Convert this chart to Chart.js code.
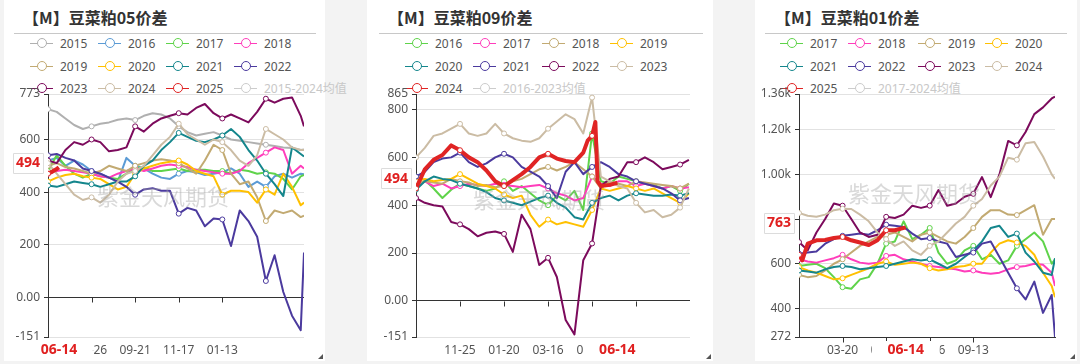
<!DOCTYPE html>
<html lang="zh"><head><meta charset="utf-8"><title>豆菜粕价差</title>
<script src="https://cdn.jsdelivr.net/npm/chart.js@4.4.1/dist/chart.umd.min.js"></script>
<style>
html,body{margin:0;padding:0}
body{width:1080px;height:364px;background:#f3f3f3;position:relative;overflow:hidden;font-family:"Noto Sans","Noto Sans CJK SC",sans-serif}
.panel{position:absolute;top:0;height:361px;background:#fff}
.title{position:absolute;top:6px;font-family:"Noto Sans CJK SC",sans-serif;font-weight:700;font-size:16px;line-height:22px;color:#333;white-space:nowrap}
.rule{position:absolute;top:33px;height:1px;background:#c8c8c8}
.lg{position:absolute;height:14px;line-height:14px;font-size:12px;color:#555;white-space:nowrap;z-index:1}
.lg .ic{position:absolute;left:0;top:6px;width:23px;height:1.5px}
.lg .ic i{position:absolute;left:6.5px;top:-4.5px;width:8px;height:8px;border-radius:50%;background:#fff;border:1px solid}
.lg .t{position:absolute;left:30px;top:0}
.wm{position:absolute;font-family:"Noto Sans CJK SC",sans-serif;font-size:22px;line-height:30px;color:rgba(165,165,165,.42);white-space:nowrap;z-index:3;pointer-events:none}
canvas{position:absolute;top:0;z-index:2}
.corner{position:absolute;top:354px;width:0;height:0;border-left:5px solid transparent;border-bottom:5px solid #555}
</style></head><body>
<script>
// ---------- colours (from oldest to newest year) ----------
const palette = ['#b0b0b0','#5b9bd5','#5fd34a','#ff3dbb','#c2aa72','#ffc000','#14868c','#4b3a9e','#7c0a5c','#cbbca4','#e02424'];

// ---------- Panel 1 : 05 spread ----------
const p1Years = ['2015','2016','2017','2018','2019','2020','2021','2022','2023','2024','2025'];
const p1Days = [0,8,16,24,32,40,48,56,64,72,80,88,96,104,112,120,128,136,144,152,160,168,176,184,192,200,208,216,224,232,235];
const p1_2015 = [715,705,680,655,640,650,660,665,675,680,674,690,700,695,680,650,628,615,622,628,615,600,595,590,585,580,575,570,568,560,562];
const p1_2016 = [520,530,500,520,505,480,470,455,440,530,500,490,470,455,450,470,480,475,465,470,475,490,470,420,440,420,460,470,455,470,468];
const p1_2017 = [480,540,500,470,455,470,460,455,450,470,490,495,480,480,485,490,480,485,485,480,480,470,485,480,470,475,470,450,410,460,465];
const p1_2018 = [470,480,485,480,475,470,460,455,470,480,490,480,490,500,505,500,495,485,480,475,470,470,480,510,530,550,570,560,470,500,490];
const p1_2019 = [500,510,495,490,480,470,480,500,490,480,500,510,520,525,520,510,490,470,520,580,560,470,430,440,380,290,330,320,330,305,310];
const p1_2020 = [440,455,465,470,460,455,450,430,410,420,470,490,500,510,515,520,505,480,470,460,390,405,405,400,360,410,390,470,420,350,360];
const p1_2021 = [425,420,430,440,435,430,420,430,440,440,460,500,520,560,590,625,610,595,590,600,615,640,610,560,520,470,430,385,570,545,535];
const p1_2022 = [540,545,530,520,490,480,470,455,440,420,390,410,415,405,405,318,340,330,270,300,296,195,330,290,230,62,160,20,-70,-125,170];
const p1_2023 = [520,510,560,590,580,600,590,555,560,570,650,630,660,680,690,700,695,720,735,700,680,695,680,665,705,755,740,755,760,690,650];
const p1_2024 = [510,470,430,390,370,380,360,390,440,470,480,500,540,580,610,660,620,600,580,600,590,560,520,500,540,640,620,600,570,560,560];
const p1Days2025 = [0,4,8,10];
const p1_2025 = [470,478,488,494];
const p1YTicks = [-151,0,200,400,600,773];
const p1XTicks = [40,80,120,160];
const p1XLabels = ['07-26','09-21','11-17','01-13'];

// ---------- Panel 2 : 09 spread ----------
const p2Years = ['2016','2017','2018','2019','2020','2021','2022','2023','2024'];
const p2Days = [0,8,16,24,32,40,48,56,64,72,80,88,96,104,112,120,128,136,144,152,160,168,176,184,192,200,208,216,224,232,240,248];
const p2_2016 = [520,505,470,430,465,490,480,470,460,470,500,460,480,450,420,400,440,420,460,380,700,500,490,520,510,500,490,485,470,480,460,490];
const p2_2017 = [475,500,480,490,470,480,490,485,480,490,485,480,475,480,485,470,450,440,420,430,520,490,480,500,500,480,490,480,470,480,470,475];
const p2_2018 = [490,500,495,490,510,500,495,480,485,475,480,500,510,530,550,560,545,560,580,550,520,470,500,490,480,500,495,490,485,480,470,490];
const p2_2019 = [500,510,500,505,510,530,510,490,480,470,445,430,440,360,310,340,320,330,320,310,380,470,460,470,480,470,460,470,450,430,410,450];
const p2_2020 = [465,500,520,510,505,490,480,470,455,430,420,410,400,415,430,440,410,390,350,340,410,430,440,420,440,450,445,440,440,445,440,450];
const p2_2021 = [520,540,580,595,600,620,580,560,575,600,615,600,560,540,520,480,430,540,580,530,560,580,560,530,520,500,490,480,470,450,420,430];
const p2_2022 = [430,410,400,395,330,320,300,270,285,290,280,205,360,300,150,180,100,-80,-140,170,240,480,510,520,580,580,600,580,550,560,570,590];
const p2_2023 = [600,640,690,700,720,740,700,690,700,740,700,680,670,665,680,720,750,780,760,700,850,520,500,480,470,410,370,380,350,360,390,470];
const p2Days2024 = [0,8,16,24,32,40,48,56,64,72,80,88,96,104,112,120,128,136,144,152,156,160,163,165,168,176,183];
const p2_2024 = [470,550,590,610,650,630,600,580,545,500,480,505,530,560,600,615,595,585,580,620,670,690,748,500,480,485,494];
const p2YTicks = [-151,0,200,400,600,800,865];
const p2XTicks = [40,80,120,160,200];
const p2XLabels = ['11-25','01-20','03-16','05-13',''];

// ---------- Panel 3 : 01 spread ----------
const p3Years = ['2017','2018','2019','2020','2021','2022','2023','2024','2025'];
const p3Days = [0,8,16,24,32,40,48,56,64,72,80,88,96,104,112,120,128,136,144,152,160,168,176,184,192,200,208,216,224,232,235];
const p3_2017 = [590,595,600,580,540,495,488,530,540,600,690,700,790,710,730,760,650,600,615,660,680,620,640,600,615,680,710,740,700,600,620];
const p3_2018 = [620,610,605,615,625,640,620,605,600,605,635,640,620,610,600,590,585,580,575,565,570,560,555,560,575,585,590,600,595,560,500];
const p3_2019 = [550,540,545,570,600,620,650,680,700,720,730,740,720,700,730,740,720,700,690,720,760,810,840,840,820,818,840,862,730,800,800];
const p3_2020 = [585,570,560,545,530,535,550,565,580,600,610,595,600,605,600,580,570,575,585,590,600,600,650,690,705,695,680,640,560,500,450];
const p3_2021 = [570,565,560,575,585,590,585,575,580,585,590,600,610,620,615,620,600,580,600,630,660,700,760,770,720,735,650,610,560,550,625];
const p3_2022 = [645,650,655,690,710,725,730,735,730,750,775,770,765,735,710,715,700,690,630,640,650,690,700,630,560,490,440,520,380,460,272];
const p3_2023 = [697,660,740,800,870,860,800,740,720,730,810,805,820,860,850,860,930,860,870,900,913,988,898,1000,1150,1130,1190,1270,1300,1340,1348];
const p3_2024 = [827,815,810,820,840,846,845,820,790,740,710,680,700,660,640,680,700,740,780,810,860,890,950,990,1075,1066,1140,1145,1080,1000,980];
const p3Days2025 = [0,3,8,16,24,32,40,48,56,64,72,80,88,98];
const p3_2025 = [640,615,690,705,706,715,720,705,695,684,705,750,750,763];
const p3YTicks = [272,400,600,800,1000,1200,1360];
const p3XTicks = [40,80,120,160];
const p3XLabels = ['03-20','05-15','07-16','09-13'];

const currentDate = '06-14';

// ---------- layout (positions only) ----------
const panels = [
  {title:'【M】豆菜粕05价差', avg:'2015-2024均值', years:p1Years,
   series:[p1_2015,p1_2016,p1_2017,p1_2018,p1_2019,p1_2020,p1_2021,p1_2022,p1_2023,p1_2024,p1_2025],
   days:[p1Days,p1Days,p1Days,p1Days,p1Days,p1Days,p1Days,p1Days,p1Days,p1Days,p1Days2025],
   colors:palette, yTicks:p1YTicks, xTicks:p1XTicks, xLabels:p1XLabels, xMax:235, zeroAxis:true, kFmt:false,
   panelX:4, panelW:321, canvasX:0, canvasW:326, yW:48, padR:22, titleX:23, ruleX:14, ruleW:302,
   cols:[30,98,166,234], wm:[97,195]},
  {title:'【M】豆菜粕09价差', avg:'2016-2023均值', years:p2Years,
   series:[p2_2016,p2_2017,p2_2018,p2_2019,p2_2020,p2_2021,p2_2022,p2_2023,p2_2024],
   days:[p2Days,p2Days,p2Days,p2Days,p2Days,p2Days,p2Days,p2Days,p2Days2024],
   colors:palette.slice(2), yTicks:p2YTicks, xTicks:p2XTicks, xLabels:p2XLabels, xMax:249, zeroAxis:true, kFmt:false,
   panelX:367, panelW:346, canvasX:370, canvasW:345, yW:46, padR:25, titleX:388, ruleX:379, ruleW:324,
   cols:[405,473,542,610], wm:[473,198]},
  {title:'【M】豆菜粕01价差', avg:'2017-2024均值', years:p3Years,
   series:[p3_2017,p3_2018,p3_2019,p3_2020,p3_2021,p3_2022,p3_2023,p3_2024,p3_2025],
   days:[p3Days,p3Days,p3Days,p3Days,p3Days,p3Days,p3Days,p3Days,p3Days2025],
   colors:palette.slice(2), yTicks:p3YTicks, xTicks:p3XTicks, xLabels:p3XLabels, xMax:235, zeroAxis:false, kFmt:true,
   panelX:755, panelW:322, canvasX:740, canvasW:340, yW:59, padR:25, titleX:775, ruleX:765, ruleW:302,
   cols:[780,848,918,985], wm:[848,192]}
];
const legendRows = [43.5,66.5,88.5,111.5];

function el(tag, cls, css, html){const e=document.createElement(tag); if(cls)e.className=cls; if(css)Object.assign(e.style,css); if(html!==undefined)e.innerHTML=html; document.body.appendChild(e); return e;}

const overlay = {
  id:'overlay',
  afterDraw(chart, args, o){
    const {ctx, chartArea:a, scales:{x, y}} = chart;
    ctx.save();
    const y0 = o.zeroAxis ? Math.round(y.getPixelForValue(0)) + 0.5 : Math.round(a.bottom) + 0.5;
    ctx.strokeStyle = '#333'; ctx.lineWidth = 1;
    x.ticks.forEach(t => {
      const px = Math.round(x.getPixelForValue(t.value)) + 0.5;
      ctx.beginPath(); ctx.moveTo(px, y0); ctx.lineTo(px, y0 + 5); ctx.stroke();
    });
    // current date label
    const cx = x.getPixelForValue(o.curDay);
    ctx.fillStyle = '#fff';
    ctx.fillRect(cx - 34, a.bottom + 4, 68, 19);
    ctx.font = 'bold 14px "Noto Sans", sans-serif';
    ctx.fillStyle = '#e02020'; ctx.textAlign = 'center'; ctx.textBaseline = 'middle';
    ctx.fillText(o.curDate, cx, a.bottom + 13.5);
    // current value label
    const vy = y.getPixelForValue(o.curVal) - 4.5;
    const txt = String(o.curVal);
    const tw = ctx.measureText(txt).width;
    const bw = tw + 6, bh = 20, bx = a.left - 5 - bw;
    ctx.fillStyle = '#fff'; ctx.strokeStyle = '#dcdcdc';
    ctx.beginPath(); ctx.rect(Math.round(bx) + 0.5, Math.round(vy - bh / 2) + 0.5, Math.round(bw), bh); ctx.fill(); ctx.stroke();
    ctx.fillStyle = '#e02020';
    ctx.fillText(txt, bx + bw / 2, vy + 0.5);
    ctx.restore();
  }
};

Chart.defaults.font.family = '"Noto Sans", sans-serif';
Chart.defaults.font.size = 12;
Chart.defaults.color = '#555';

panels.forEach(p => {
  el('div', 'panel', {left:p.panelX + 'px', width:p.panelW + 'px'});
  el('div', 'title', {left:p.titleX + 'px'}, p.title);
  el('div', 'rule', {left:p.ruleX + 'px', width:p.ruleW + 'px'});
  const items = p.years.map((yr, i) => ({t:yr, c:p.colors[i]})).concat([{t:p.avg, c:'#cccccc', off:true}]);
  items.forEach((it, k) => {
    const col = k % 4, row = Math.floor(k / 4);
    el('div', 'lg', {left:p.cols[col] + 'px', top:(legendRows[row] - 7) + 'px', color: it.off ? '#c8c8c8' : '#555'},
      '<span class="ic" style="background:' + it.c + '"><i style="border-color:' + it.c + '"></i></span><span class="t">' + it.t + '</span>');
  });
  el('div', 'wm', {left:p.wm[0] + 'px', top:(p.wm[1] - 15) + 'px'}, '紫金天风期货');
  el('div', 'corner', {left:(p.panelX + p.panelW - 7) + 'px'});

  const cv = document.createElement('canvas');
  cv.width = p.canvasW; cv.height = 361;
  cv.style.left = p.canvasX + 'px'; cv.style.width = p.canvasW + 'px'; cv.style.height = '361px';
  document.body.appendChild(cv);

  const n = p.years.length;
  const datasets = p.years.map((yr, i) => {
    const d = p.days[i], v = p.series[i];
    const cur = i === n - 1;
    return {
      label: yr,
      data: v.map((val, j) => ({x: d[j], y: val})),
      borderColor: p.colors[i], backgroundColor: p.colors[i],
      borderWidth: cur ? 4 : 2, borderJoinStyle: 'round',
      pointRadius: c => (c.raw && c.raw.x % 40 === 0) ? 2.5 : 0,
      pointHoverRadius: 0,
      pointBackgroundColor: '#fff', pointBorderColor: p.colors[i], pointBorderWidth: 1,
      tension: 0, order: -i
    };
  });
  const lastSeries = p.series[n - 1], lastDays = p.days[n - 1];
  const fmt = v => p.kFmt ? (v >= 1000 ? (v / 1000).toFixed(2) + 'k' : String(v)) : (v === 0 ? '0.00' : String(v));

  new Chart(cv, {
    type: 'line',
    data: {datasets},
    plugins: [overlay],
    options: {
      responsive: false, animation: false, devicePixelRatio: 1,
      layout: {padding: {left: 0, right: p.padR, top: 94, bottom: 0}},
      plugins: {
        legend: {display: false}, tooltip: {enabled: false},
        overlay: {zeroAxis: p.zeroAxis, curDay: lastDays[lastDays.length - 1], curVal: lastSeries[lastSeries.length - 1], curDate: currentDate}
      },
      scales: {
        x: {
          type: 'linear', min: 0, max: p.xMax, bounds: 'data',
          afterFit: s => { s.height = 24; },
          afterBuildTicks: s => { s.ticks = p.xTicks.map(v => ({value: v})); },
          ticks: {autoSkip: false, maxRotation: 0, padding: 6, color: '#555', callback: (v, i) => p.xLabels[i] ?? ''},
          grid: {display: false, drawTicks: false},
          border: {display: !p.zeroAxis, color: '#333', width: 1}
        },
        y: {
          type: 'linear', min: p.yTicks[0], max: p.yTicks[p.yTicks.length - 1], bounds: 'data',
          afterFit: s => { s.width = p.yW; },
          afterBuildTicks: s => { s.ticks = p.yTicks.map(v => ({value: v})); },
          ticks: {autoSkip: false, padding: 4, color: '#555', callback: v => fmt(v)},
          grid: {color: c => (c.tick && c.tick.value === 0) ? '#333' : '#e2e2e2', tickColor: '#333', tickLength: 4, lineWidth: 1},
          border: {display: true, color: '#333', width: 1}
        }
      }
    }
  });
});
</script>
</body></html>
